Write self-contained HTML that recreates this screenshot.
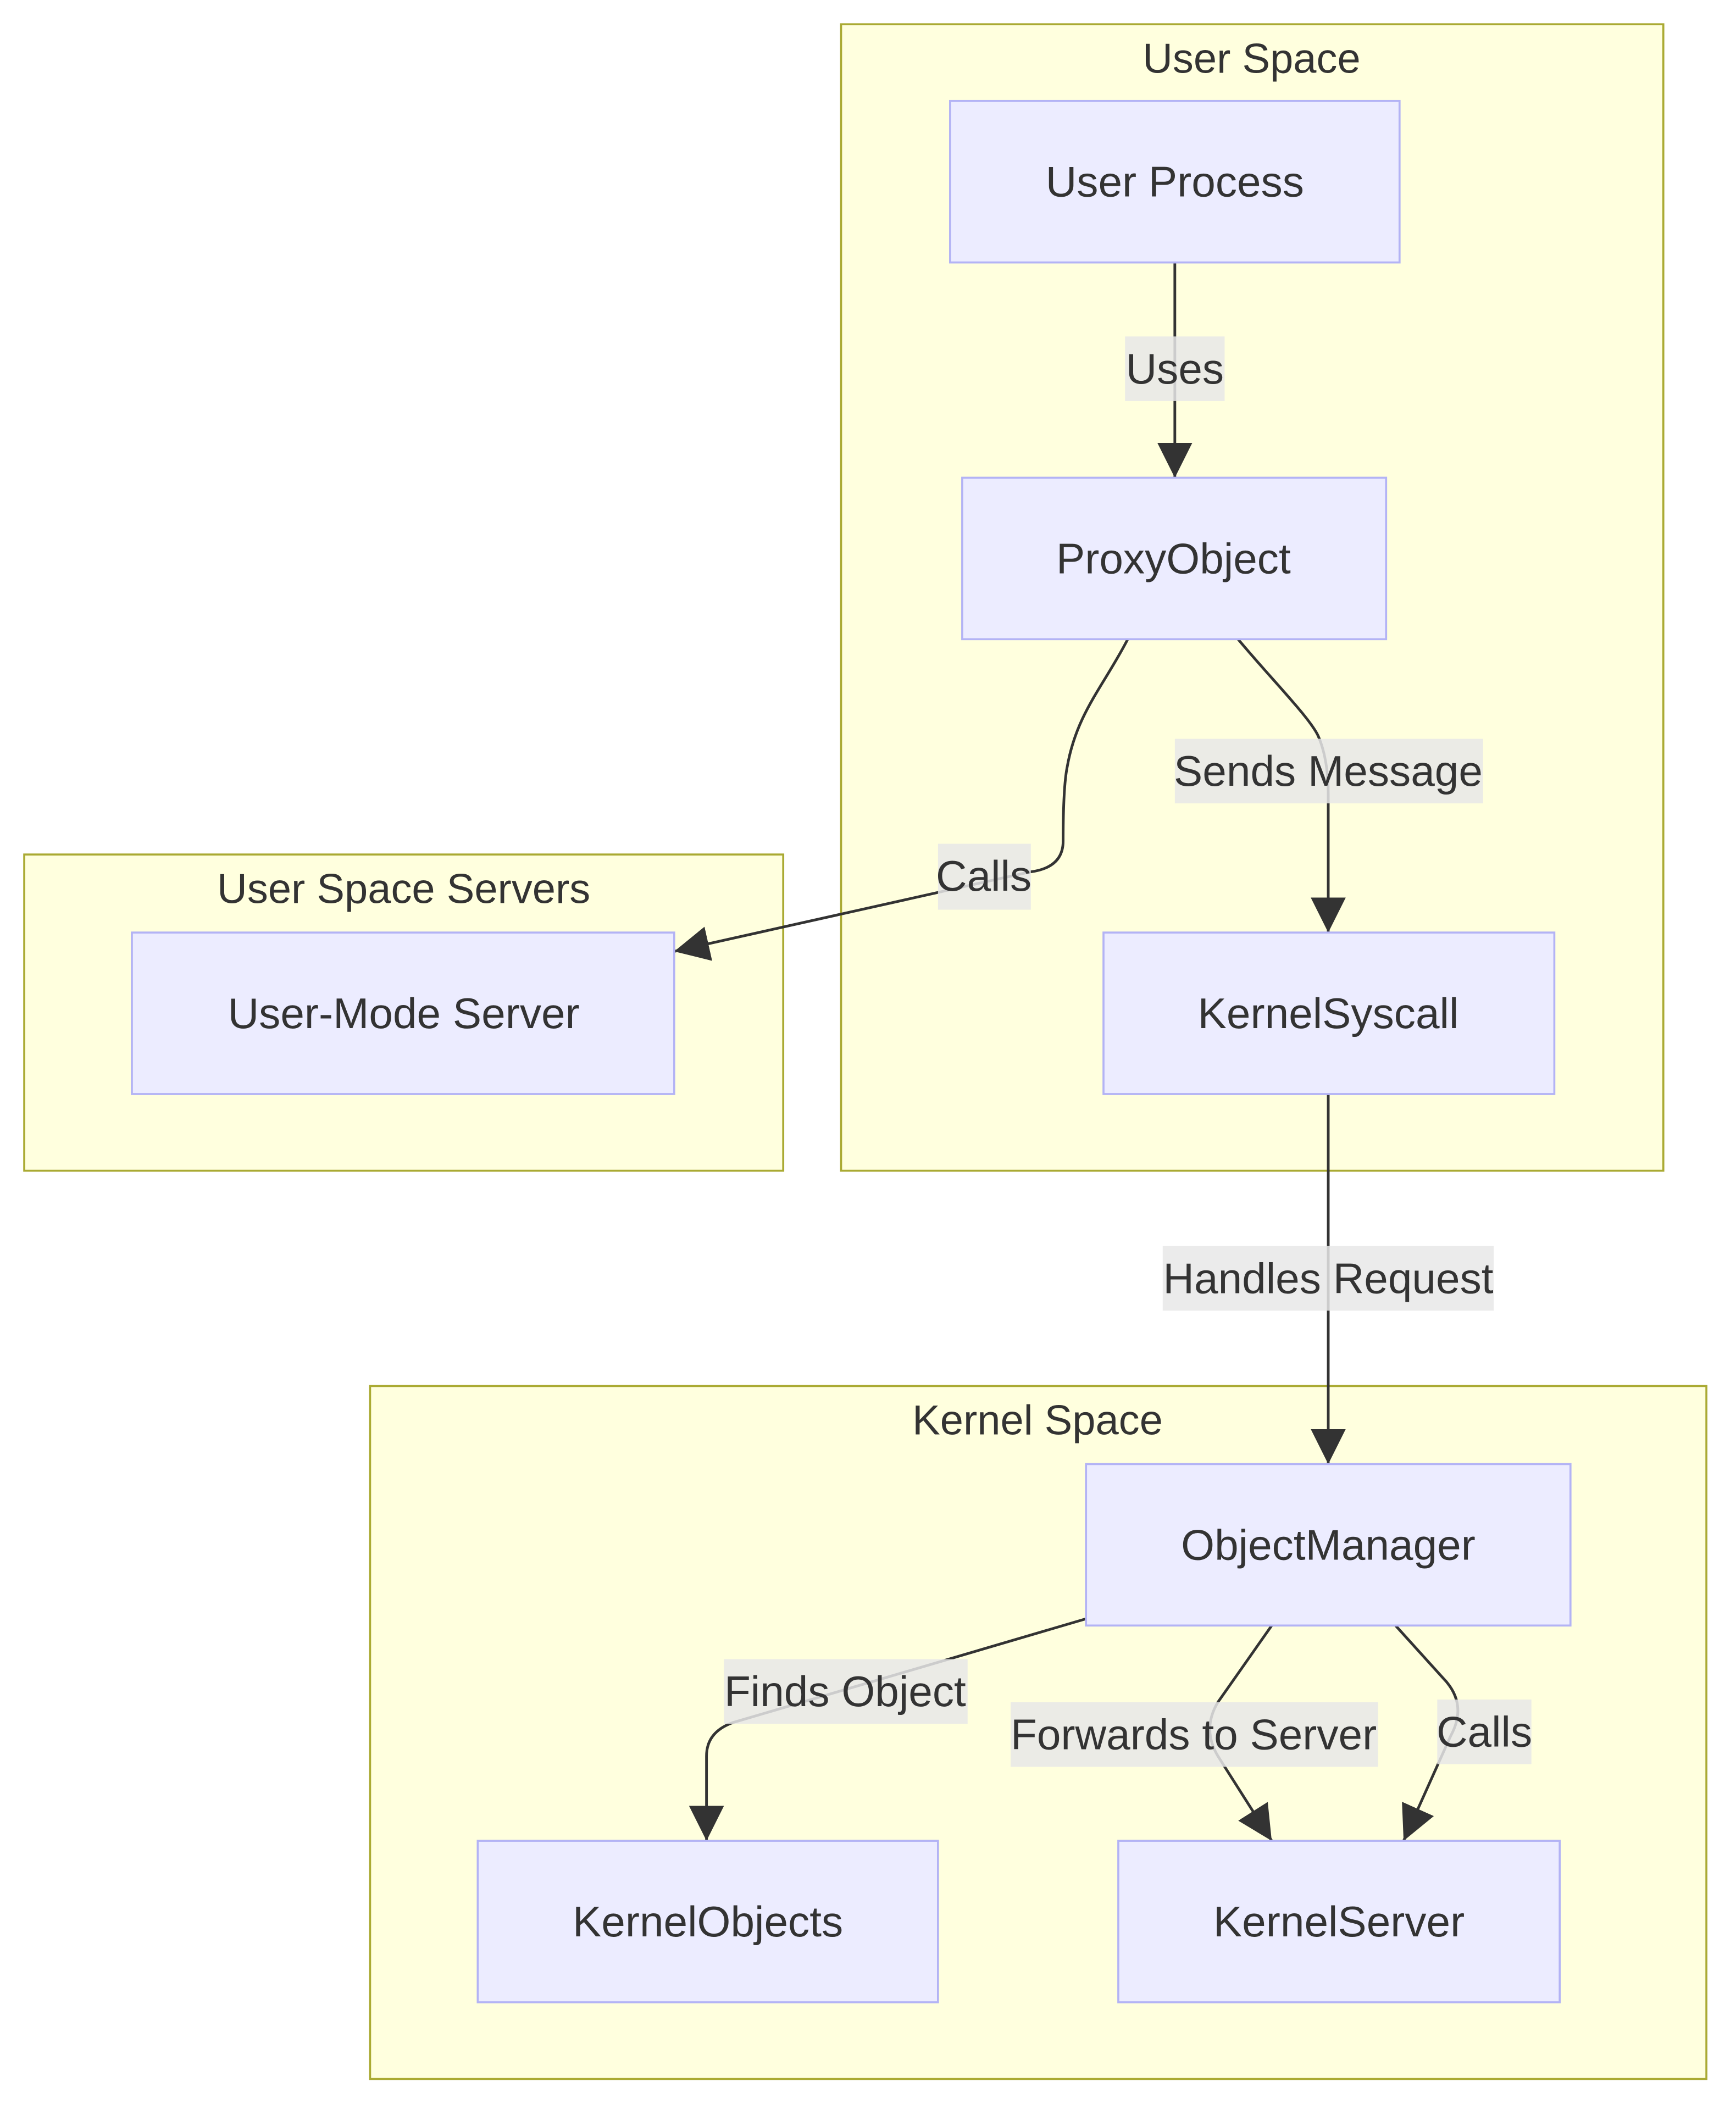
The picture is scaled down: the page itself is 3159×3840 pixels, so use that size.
<!DOCTYPE html>
<html><head><meta charset="utf-8"><style>html,body{margin:0;padding:0;background:#fff}svg{display:block}</style></head>
<body>
<svg width="3159" height="3840" viewBox="0 0 1290 1568" xmlns="http://www.w3.org/2000/svg" font-family="'Liberation Sans', Arial, sans-serif">
<defs><marker id="b" viewBox="0 0 10 10" refX="10" refY="5" markerWidth="26" markerHeight="26" markerUnits="userSpaceOnUse" orient="auto"><path d="M0,0L10,5L0,10z" fill="#333"/></marker></defs>
<g fill="#ffffde" stroke="#aaaa33" stroke-width="1.5">
<rect x="625" y="18" width="611" height="852"/>
<rect x="18" y="635" width="564" height="235"/>
<rect x="275" y="1030" width="993" height="515"/>
</g>
<g font-size="31" fill="#333" text-anchor="middle">
<text x="930" y="54">User Space</text>
<text x="300" y="671">User Space Servers</text>
<text x="771" y="1066">Kernel Space</text>
</g>
<g fill="none" stroke="#333" stroke-width="2">
<path d="M873,195V355" marker-end="url(#b)"/>
<path d="M920,475C945,505 975,535 980,548Q987,565 987,590V693" marker-end="url(#b)"/>
<path d="M838,475C820,510 800,530 793,570Q790,585 790,625Q790,645 765,648L501,707" marker-end="url(#b)"/>
<path d="M987,813V1088" marker-end="url(#b)"/>
<path d="M807,1203L545,1280Q525,1287 525,1305V1368" marker-end="url(#b)"/>
<path d="M945,1208L905,1265Q893,1285 905,1305L945,1368" marker-end="url(#b)"/>
<path d="M1037,1208L1075,1250Q1090,1268 1078,1290L1043,1368" marker-end="url(#b)"/>
</g>
<g fill="#ececff" stroke="#b3b3f5" stroke-width="1.5">
<rect x="706" y="75" width="334" height="120"/>
<rect x="715" y="355" width="315" height="120"/>
<rect x="820" y="693" width="335" height="120"/>
<rect x="98" y="693" width="403" height="120"/>
<rect x="807" y="1088" width="360" height="120"/>
<rect x="355" y="1368" width="342" height="120"/>
<rect x="831" y="1368" width="328" height="120"/>
</g>
<g fill="#e8e8e8" fill-opacity="0.85">
<rect x="836" y="250" width="74" height="48"/>
<rect x="873" y="549" width="229" height="48"/>
<rect x="697" y="627" width="69" height="49"/>
<rect x="864" y="926" width="246" height="48"/>
<rect x="538" y="1233" width="181" height="48"/>
<rect x="751" y="1265" width="273" height="48"/>
<rect x="1068" y="1263" width="70" height="48"/>
</g>
<g font-size="32" fill="#333" text-anchor="middle">
<text x="873" y="146">User Process</text>
<text x="872" y="426">ProxyObject</text>
<text x="987" y="764">KernelSyscall</text>
<text x="300" y="764">User-Mode Server</text>
<text x="987" y="1159">ObjectManager</text>
<text x="526" y="1439">KernelObjects</text>
<text x="995" y="1439">KernelServer</text>
<text x="873" y="285">Uses</text>
<text x="987" y="584">Sends Message</text>
<text x="731" y="662">Calls</text>
<text x="987" y="961">Handles Request</text>
<text x="628" y="1268">Finds Object</text>
<text x="887" y="1300">Forwards to Server</text>
<text x="1103" y="1298">Calls</text>
</g>
</svg>
</body></html>
